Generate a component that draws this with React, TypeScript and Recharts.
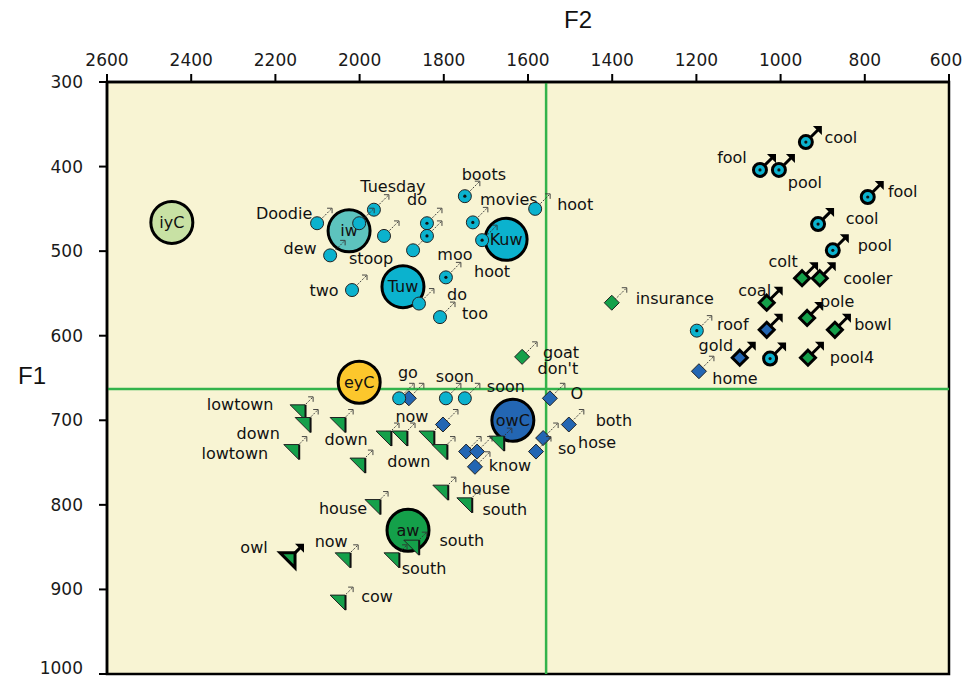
import React from 'react';
import { ScatterChart, Scatter, XAxis, YAxis, ReferenceLine, ReferenceArea } from 'recharts';

// ---------- DATA ----------
const F2_TICKS = [2600, 2400, 2200, 2000, 1800, 1600, 1400, 1200, 1000, 800, 600];
const F1_TICKS = [300, 400, 500, 600, 700, 800, 900, 1000];
const F2_MEAN_LINE = 1557;
const F1_MEAN_LINE = 663;

const meanLabels = ['iyC', 'iw', 'Kuw', 'Tuw', 'eyC', 'owC', 'aw'];
const meanF2 = [2446, 2025, 1652, 1897, 2001, 1636, 1885];
const meanF1 = [466, 476, 486, 542, 655, 700, 830];

// [word, F2, F1, centre dot]
type Tok = [string, number, number, number?];

const uwThin: Tok[] = [
  ['Doodie', 2101, 467, 0], ['Tuesday', 1966, 451, 0], ['', 2001, 467, 0], ['dew', 2070, 505, 0],
  ['', 1942, 482, 0], ['stoop', 1873, 499, 0], ['do', 1840, 467, 1], ['', 1840, 482, 1],
  ['boots', 1750, 435, 1], ['movies', 1731, 466, 1], ['hoot', 1709, 487, 1], ['hoot', 1583, 450, 0],
  ['moo', 1795, 531, 1], ['two', 2018, 546, 0], ['do', 1859, 562, 0], ['too', 1809, 578, 0],
  ['', 1906, 674, 0], ['soon', 1795, 674, 0], ['soon', 1750, 674, 0], ['roof', 1199, 594, 1],
];
const uwBold: Tok[] = [
  ['cool', 940, 371, 1], ['fool', 1049, 404, 1], ['pool', 1004, 404, 1], ['fool', 793, 436, 1],
  ['cool', 911, 468, 1], ['pool', 876, 499, 1], ['', 1025, 627, 1],
];
const oBold: Tok[] = [
  ['colt', 949, 532], ['cooler', 907, 532], ['coal', 1033, 561], ['pole', 937, 579],
  ['bowl', 871, 593], ['pool4', 935, 626],
];
const owBold: Tok[] = [['', 1033, 593], ['gold', 1097, 626]];
const oThin: Tok[] = [['insurance', 1401, 561], ['goat', 1614, 625]];
const owThin: Tok[] = [
  ['home', 1194, 642], ['go', 1883, 674], ['O', 1548, 674], ['both', 1503, 705], ['now', 1802, 705],
  ['hose', 1564, 721], ['so', 1581, 737], ['', 1747, 737], ['', 1721, 737], ['know', 1726, 755],
];
const awThin: Tok[] = [
  ['lowtown', 2146, 690], ['down', 2134, 705], ['lowtown', 2161, 737], ['down', 2051, 705],
  ['', 1942, 721], ['', 1904, 721], ['', 1840, 721], ['', 1809, 737], ['down', 2004, 753],
  ['', 1674, 727], ['house', 1807, 785], ['south', 1750, 800], ['house', 1968, 802],
  ['south', 1876, 850], ['south', 1923, 865], ['now', 2039, 865], ['cow', 2051, 915],
];
const awBold: Tok[] = [['owl', 2170, 865]];
const notes: Tok[] = [["don't", 1529, 639]];

// ---------- LAYOUT (label offsets in px from marker) ----------
type Off = [number, number] | null;
const uwThinLab: Off[] = [[-33, -10], [19, -23], null, [-30, -7], null, [-42, 8], [-10, -24], null, [19, -22], [36, -23], [10, 31], [40, -4], [9, -23], [-28, 0], [38, -9], [35, -4], null, [9, -22], [41, -12], [36, -6]];
const uwBoldLab: Off[] = [[35, -5], [-28, -12], [26, 13], [35, -6], [44, -6], [42, -5], null];
const oBoldLab: Off[] = [[-19, -17], [48, 0], [-12, -12], [30, -16], [38, -5], [44, 0]];
const owBoldLab: Off[] = [null, [-24, -12]];
const oThinLab: Off[] = [[63, -4], [39, -4]];
const owThinLab: Off[] = [[36, 7], [-1, -26], [27, -5], [45, -4], [-31, -8], [54, 4], [31, -3], null, null, [35, -1]];
const awThinLab: Off[] = [[-58, -7], [-45, 9], [-57, 2], [8, 15], null, null, null, null, [51, -4], null, [45, -4], [40, 5], [-30, 2], [50, -7], [32, 9], [-12, -18], [39, -6]];
const awBoldLab: Off[] = [[-34, -12]];

// ---------- STYLE ----------
const COL = {
  cream: '#F8F4D3', cyan: '#0BB2CE', teal: '#5DC3BE', blue: '#2366B3', green: '#14A04A',
  yellow: '#FCC72C', lime: '#C8E1A4', line: '#33B34B',
};
const meanColor: Record<string, string> = {
  iyC: COL.lime, iw: COL.teal, Kuw: COL.cyan, Tuw: COL.cyan, eyC: COL.yellow, owC: COL.blue, aw: COL.green,
};
const FONT = '"DejaVu Sans", sans-serif';

const toRows = (arr: Tok[]) => arr.map((t, i) => ({ word: t[0], f2: t[1], f1: t[2], dot: t[3] || 0, i }));
const meanRows = meanLabels.map((l, i) => ({ word: l, f2: meanF2[i], f1: meanF1[i] }));

function Arrow({ x, y, bold }: { x: number; y: number; bold: boolean }) {
  const x2 = x + 15, y2 = y - 15;
  if (bold) {
    return (
      <g>
        <line x1={x + 2} y1={y - 2} x2={x2 - 3} y2={y2 + 3} stroke="#000" strokeWidth={3} />
        <polygon points={`${x2 + 1},${y2 - 1} ${x2 - 8},${y2 - 1} ${x2 + 1},${y2 + 8}`} fill="#000" />
      </g>
    );
  }
  return (
    <g stroke="#333" strokeWidth={0.9} fill="none">
      <line x1={x + 3} y1={y - 3} x2={x2} y2={y2} strokeDasharray="2 1.4" />
      <polyline points={`${x2 - 5},${y2} ${x2},${y2} ${x2},${y2 + 5}`} />
    </g>
  );
}

function makeShape(kind: 'circle' | 'diamond' | 'tri' | 'note', bold: boolean, color: string, labs: Off[]) {
  return (props: any) => {
    const { cx, cy, payload } = props;
    if (cx == null || cy == null) return <g />;
    const off = labs[payload.i];
    const sw = bold ? 3 : 1;
    const stroke = bold ? '#000' : '#222';
    let mark: React.ReactNode = null;
    if (kind === 'circle') {
      mark = (
        <g>
          <circle cx={cx} cy={cy} r={6.5} fill={color} stroke={stroke} strokeWidth={sw} />
          {payload.dot ? <circle cx={cx} cy={cy} r={1.6} fill="#111" /> : null}
        </g>
      );
    } else if (kind === 'diamond') {
      const d = 7.5;
      mark = <polygon points={`${cx},${cy - d} ${cx + d},${cy} ${cx},${cy + d} ${cx - d},${cy}`} fill={color} stroke={stroke} strokeWidth={sw} strokeLinejoin="miter" />;
    } else if (kind === 'tri') {
      mark = (
        <g>
          <polygon points={`${cx - 8},${cy - 7} ${cx + 7},${cy - 7} ${cx + 7},${cy + 8}`} fill={color} stroke={stroke} strokeWidth={sw} />
          {!bold ? <line x1={cx + 7.5} y1={cy - 7} x2={cx + 7.5} y2={cy + 8} stroke="#111" strokeWidth={1.8} /> : null}
        </g>
      );
    }
    const label = payload.word ? (
      <text
        x={kind === 'note' ? cx : cx + (off ? off[0] : 0)}
        y={kind === 'note' ? cy : cy + (off ? off[1] : 0)}
        textAnchor="middle"
        dominantBaseline="central"
        fontSize={16}
        fontFamily={FONT}
        fill="#111"
      >
        {payload.word}
      </text>
    ) : null;
    return (
      <g>
        {kind !== 'note' ? <Arrow x={cx} y={cy} bold={bold} /> : null}
        {mark}
        {label}
      </g>
    );
  };
}

const meanShape = (props: any) => {
  const { cx, cy, payload } = props;
  return (
    <g>
      <circle cx={cx} cy={cy} r={21} fill={meanColor[payload.word]} stroke="#000" strokeWidth={3} />
      <text x={cx} y={cy} textAnchor="middle" dominantBaseline="central" fontSize={16} fontFamily={FONT} fill="#111">
        {payload.word}
      </text>
    </g>
  );
};

const XTick = (p: any) => {
  const v = p.payload.value;
  const shift = v === 600 ? -3 : 0;
  return (
    <text x={p.x + shift} y={p.y} textAnchor="middle" fontSize={17} fontFamily={FONT} fill="#1a1a1a">{v}</text>
  );
};
const YTick = (p: any) => {
  const v = p.payload.value;
  const shift = v === 1000 ? -6 : 0;
  return (
    <text x={p.x} y={p.y + shift} textAnchor="end" dominantBaseline="central" fontSize={17} fontFamily={FONT} fill="#1a1a1a">{v}</text>
  );
};

export default function App() {
  return (
    <div style={{ position: 'absolute', left: 0, top: 0, width: 962, height: 678, background: '#fff' }}>
      <div style={{ position: 'absolute', left: 560, top: 6, width: 36, textAlign: 'center', fontFamily: '"Liberation Sans", sans-serif', fontSize: 24, color: '#111' }}>F2</div>
      <div style={{ position: 'absolute', left: 14, top: 362, width: 36, textAlign: 'center', fontFamily: '"Liberation Sans", sans-serif', fontSize: 24, color: '#111' }}>F1</div>
      <ScatterChart width={962} height={678} margin={{ top: 0, right: 13, bottom: 4, left: 0 }} style={{ position: 'absolute', left: 0, top: 0 }}>
        <ReferenceArea x1={600} x2={2600} y1={300} y2={1000} fill={COL.cream} fillOpacity={1} stroke="#000" strokeWidth={2.5} />
        <XAxis
          type="number" dataKey="f2" domain={[600, 2600]} reversed orientation="top" ticks={F2_TICKS} interval={0}
          height={82} tickSize={8} tickMargin={8} allowDataOverflow
          axisLine={{ stroke: '#000', strokeWidth: 2.5 }} tickLine={{ stroke: '#000', strokeWidth: 2 }}
          tick={XTick}
        />
        <YAxis
          type="number" dataKey="f1" domain={[300, 1000]} reversed ticks={F1_TICKS} interval={0}
          width={107} tickSize={8} tickMargin={16} allowDataOverflow
          axisLine={{ stroke: '#000', strokeWidth: 2.5 }} tickLine={{ stroke: '#000', strokeWidth: 2 }}
          tick={YTick}
        />
        <ReferenceLine x={F2_MEAN_LINE} stroke={COL.line} strokeWidth={2.5} />
        <ReferenceLine y={F1_MEAN_LINE} stroke={COL.line} strokeWidth={2.5} />
        <Scatter data={meanRows} shape={meanShape} isAnimationActive={false} />
        <Scatter data={toRows(awThin)} shape={makeShape('tri', false, COL.green, awThinLab)} isAnimationActive={false} />
        <Scatter data={toRows(awBold)} shape={makeShape('tri', true, COL.green, awBoldLab)} isAnimationActive={false} />
        <Scatter data={toRows(owThin)} shape={makeShape('diamond', false, COL.blue, owThinLab)} isAnimationActive={false} />
        <Scatter data={toRows(oThin)} shape={makeShape('diamond', false, COL.green, oThinLab)} isAnimationActive={false} />
        <Scatter data={toRows(uwThin)} shape={makeShape('circle', false, COL.cyan, uwThinLab)} isAnimationActive={false} />
        <Scatter data={toRows(owBold)} shape={makeShape('diamond', true, COL.blue, owBoldLab)} isAnimationActive={false} />
        <Scatter data={toRows(oBold)} shape={makeShape('diamond', true, COL.green, oBoldLab)} isAnimationActive={false} />
        <Scatter data={toRows(uwBold)} shape={makeShape('circle', true, COL.cyan, uwBoldLab)} isAnimationActive={false} />
        <Scatter data={toRows(notes)} shape={makeShape('note', false, '#000', [null])} isAnimationActive={false} />
      </ScatterChart>
    </div>
  );
}
